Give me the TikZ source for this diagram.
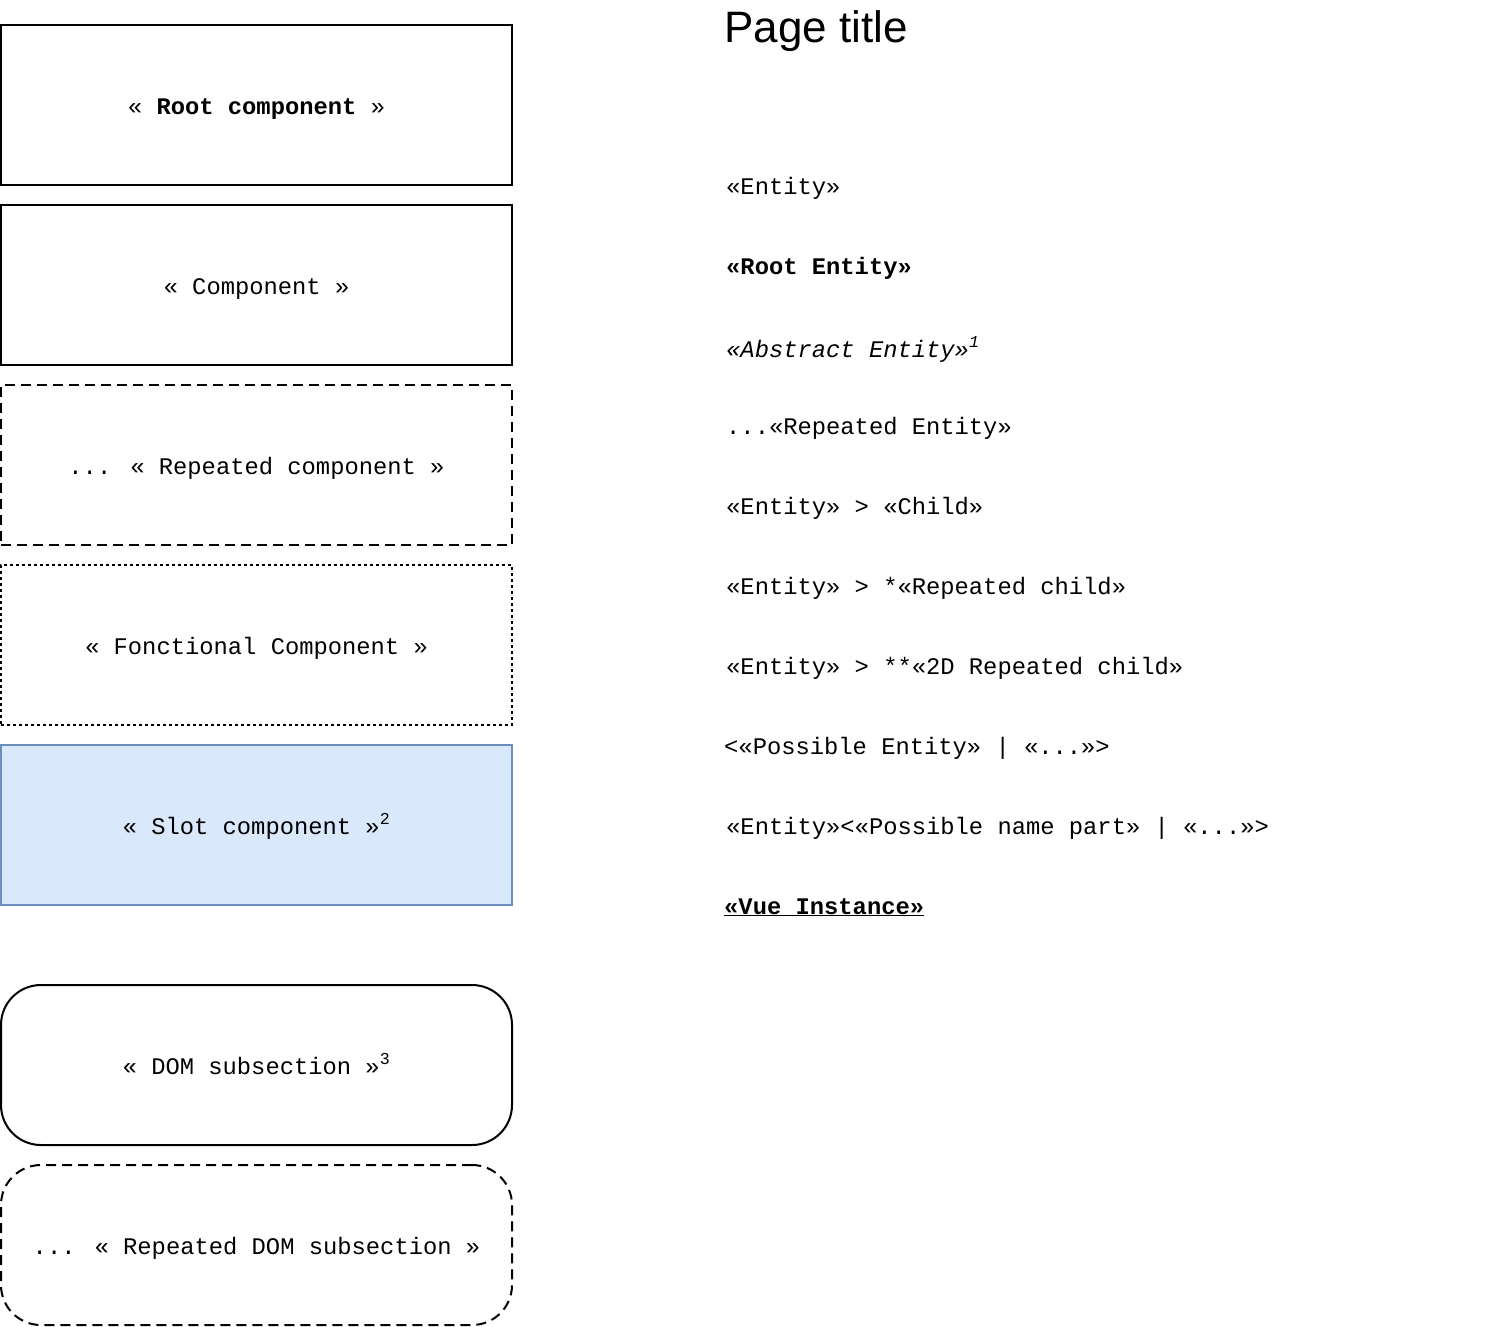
\documentclass[tikz,border=0pt]{standalone}
\usepackage{fontspec}
\setmainfont{Liberation Mono}
\setmonofont{Liberation Mono}
\setsansfont{Liberation Sans}
\usepackage{tikz}
\usetikzlibrary{positioning}
\definecolor{slotfill}{RGB}{218,232,252}
\definecolor{slotline}{RGB}{108,142,191}

\begin{document}
\begin{tikzpicture}[x=1pt, y=-1pt,
    every node/.style = {align=center, font=\fontsize{23.8}{28}\selectfont},
    comp/.style = {draw, line width=2pt, minimum width=511pt, minimum height=160pt, outer sep=0pt, inner sep=0pt, text height=18pt, text depth=0pt},
    repeated/.style = {comp, dash pattern=on 10pt off 6pt},
    fonctional/.style = {comp, dash pattern=on 3pt off 3pt},
    slot/.style = {comp, draw=slotline, fill=slotfill},
    domsec/.style = {comp, rounded corners=40pt},
    repdomsec/.style = {domsec, dash pattern=on 10pt off 6pt},
    entity/.style = {anchor=base west, inner sep=0pt}]
    \useasboundingbox (0,0) rectangle (1502,1326);
    % components
    \node[comp] (rootcomp) at (256.5,105) {« \textbf{Root component} »};
    \node[comp, below=20pt of rootcomp] (comp) {« Component »};
    \node[repeated, below=20pt of comp] (repcomp) {... « Repeated component »};
    \node[fonctional, below=20pt of repcomp] (foncomp) {« Fonctional Component »};
    \node[slot, below=20pt of foncomp] (slotcomp) {« Slot component »\textsuperscript{2}};
    \node[domsec, below=80pt of slotcomp] (domsub) {« DOM subsection »\textsuperscript{3}};
    \node[repdomsec, below=20pt of domsub] (repdomsub) {... « Repeated DOM subsection »};
    % legend
    \node[anchor=base west, inner sep=0pt, font=\sffamily\fontsize{44}{50}\selectfont] (title) at (724,42) {Page title};
    \node[entity] (entity) at (726,194) {«Entity»};
    \node[entity] (rootentity) at (726,274) {\textbf{«Root Entity»}};
    \node[entity] (abstract) at (726,357) {\textit{«Abstract Entity»}\textsuperscript{\textit{1}}};
    \node[entity] (repentity) at (726,434) {...«Repeated Entity»};
    \node[entity] (child) at (726,514) {«Entity» > «Child»};
    \node[entity] (repchild) at (726,594) {«Entity» > *«Repeated child»};
    \node[entity] (repchildtwo) at (726,674) {«Entity» > **«2D Repeated child»};
    \node[entity] (possible) at (724,754) {<«Possible Entity» | «...»>};
    \node[entity] (possiblename) at (726,834) {«Entity»<«Possible name part» | «...»>};
    \node[entity] (vue) at (724,914) {\underline{\textbf{«Vue Instance»}}};
  \end{tikzpicture}
\end{document}
